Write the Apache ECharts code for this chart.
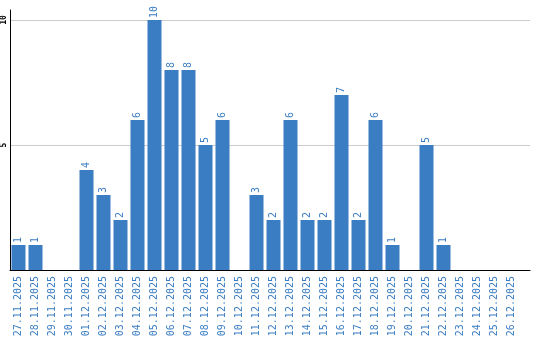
<!DOCTYPE html>
<html><head><meta charset="utf-8">
<script src="https://cdn.jsdelivr.net/npm/echarts@6/dist/echarts.min.js"></script>
<style>html,body{margin:0;padding:0;background:#fff}#c{width:540px;height:340px}</style>
</head><body><div id="c"></div>
<script>
const categories = ["27.11.2025","28.11.2025","29.11.2025","30.11.2025","01.12.2025","02.12.2025","03.12.2025","04.12.2025","05.12.2025","06.12.2025","07.12.2025","08.12.2025","09.12.2025","10.12.2025","11.12.2025","12.12.2025","13.12.2025","14.12.2025","15.12.2025","16.12.2025","17.12.2025","18.12.2025","19.12.2025","20.12.2025","21.12.2025","22.12.2025","23.12.2025","24.12.2025","25.12.2025","26.12.2025"];
const values = [1,1,0,0,4,3,2,6,10,8,8,5,6,0,3,2,6,2,2,7,2,6,1,0,5,1,0,0,0,0];
const yTickLabels = [5,10];

const blue = '#3b7dc2';
const font = 'DejaVu Sans Mono';
const chart = echarts.init(document.getElementById('c'));
chart.setOption({
  animation: false,
  grid: [
    {left: 10, width: 520, top: 20, bottom: 70},
    {left: 10, width: 510, top: 10, bottom: 70}
  ],
  xAxis: [
    {gridIndex: 0, type: 'value', min: 0, max: 1, axisLabel: {show: false}, axisTick: {show: false}, splitLine: {show: false},
     axisLine: {show: true, onZero: false, lineStyle: {color: '#000', width: 1}}},
    {gridIndex: 1, type: 'category', data: categories, boundaryGap: true,
     axisLine: {show: false}, axisTick: {show: false},
     axisLabel: {interval: 0, rotate: 90, color: blue, fontFamily: font, fontSize: 10, margin: 6}}
  ],
  yAxis: [
    {gridIndex: 0, type: 'value', min: 0, max: 10, interval: 5, axisLabel: {show: false}, axisTick: {show: false},
     axisLine: {show: false}, splitLine: {show: true, lineStyle: {color: '#cccccc', width: 1}}},
    {gridIndex: 1, type: 'value', min: 0, max: 10.4, splitLine: {show: false}, axisTick: {show: false},
     axisLine: {show: true, lineStyle: {color: '#000', width: 1}},
     axisLabel: {customValues: yTickLabels, rotate: 90, color: '#000', fontFamily: font, fontSize: 8, fontWeight: 'bold', margin: 2}}
  ],
  series: [{
    type: 'bar', xAxisIndex: 1, yAxisIndex: 1, data: values, barWidth: 14,
    itemStyle: {color: blue},
    label: {show: true, position: 'top', rotate: 90, align: 'left', verticalAlign: 'middle', distance: 2,
      color: blue, fontFamily: font, fontSize: 10,
      formatter: p => p.value > 0 ? String(p.value) : ''}
  }]
});
</script></body></html>
